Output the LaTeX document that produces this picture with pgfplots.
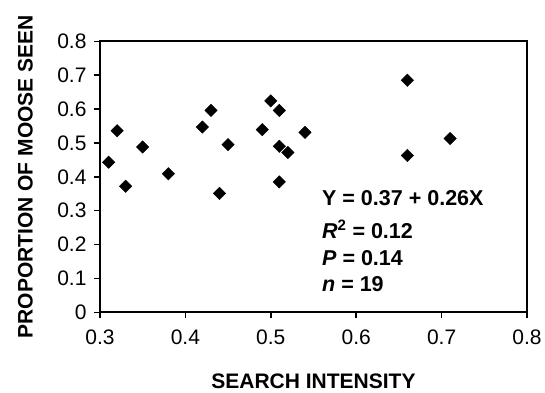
\documentclass[border=0pt]{standalone}
\usepackage{pgfplots}
\pgfplotsset{compat=1.18}
\usepackage{fontspec}
\setmainfont{Liberation Sans}
\begin{document}
\begin{tikzpicture}
\begin{axis}[
  at={(0,0)}, anchor=south west,
  scale only axis, width=427pt, height=271pt,
  xmin=0.3, xmax=0.8, ymin=0, ymax=0.8,
  xtick={0.3,0.4,0.5,0.6,0.7,0.8},
  xticklabels={0.3,0.4,0.5,0.6,0.7,0.8},
  ytick={0,0.1,0.2,0.3,0.4,0.5,0.6,0.7,0.8},
  yticklabels={0,0.1,0.2,0.3,0.4,0.5,0.6,0.7,0.8},
  axis line style={line width=2pt, black},
  tick style={line width=1.6pt, black},
  tick align=outside, major tick length=6pt,
  xtick pos=bottom, ytick pos=left,
  tick label style={font=\fontsize{21}{25}\selectfont},
  xticklabel style={yshift=-8pt},
  yticklabel style={xshift=-4pt},
  xlabel={SEARCH INTENSITY},
  ylabel={PROPORTION OF MOOSE SEEN},
  label style={font=\fontsize{21}{25}\selectfont\bfseries},
  xlabel style={at={(axis description cs:0.5,-0.256)}, anchor=center},
  ylabel style={at={(axis description cs:-0.175,0.5)}, anchor=center},
]
\addplot[only marks, mark=square*, mark size=4.4pt, mark options={rotate=45, fill=black, draw=black}, black] coordinates {
  (0.31,0.443) (0.32,0.536) (0.33,0.372) (0.35,0.488) (0.38,0.409)
  (0.42,0.547) (0.43,0.596) (0.44,0.351) (0.45,0.495) (0.49,0.539)
  (0.50,0.624) (0.51,0.596) (0.51,0.490) (0.52,0.472) (0.51,0.385)
  (0.54,0.531) (0.66,0.685) (0.66,0.463) (0.71,0.513)
};
\node[anchor=base west, inner sep=0pt, font=\fontsize{21.5}{25}\selectfont\bfseries] at (axis cs:0.5599,0.3145) {Y = 0.37 + 0.26X};
\node[anchor=base west, inner sep=0pt, font=\fontsize{21.5}{25}\selectfont\bfseries] at (axis cs:0.5599,0.219) {\textit{R}\textsuperscript{2} = 0.12};
\node[anchor=base west, inner sep=0pt, font=\fontsize{21.5}{25}\selectfont\bfseries] at (axis cs:0.5599,0.1379) {\textit{P} = 0.14};
\node[anchor=base west, inner sep=0pt, font=\fontsize{21.5}{25}\selectfont\bfseries] at (axis cs:0.5599,0.0609) {\textit{n} = 19};
\end{axis}
\pgfresetboundingbox
\useasboundingbox (-100pt,-79.7pt) rectangle (445pt,312.3pt);
\end{tikzpicture}
\end{document}
